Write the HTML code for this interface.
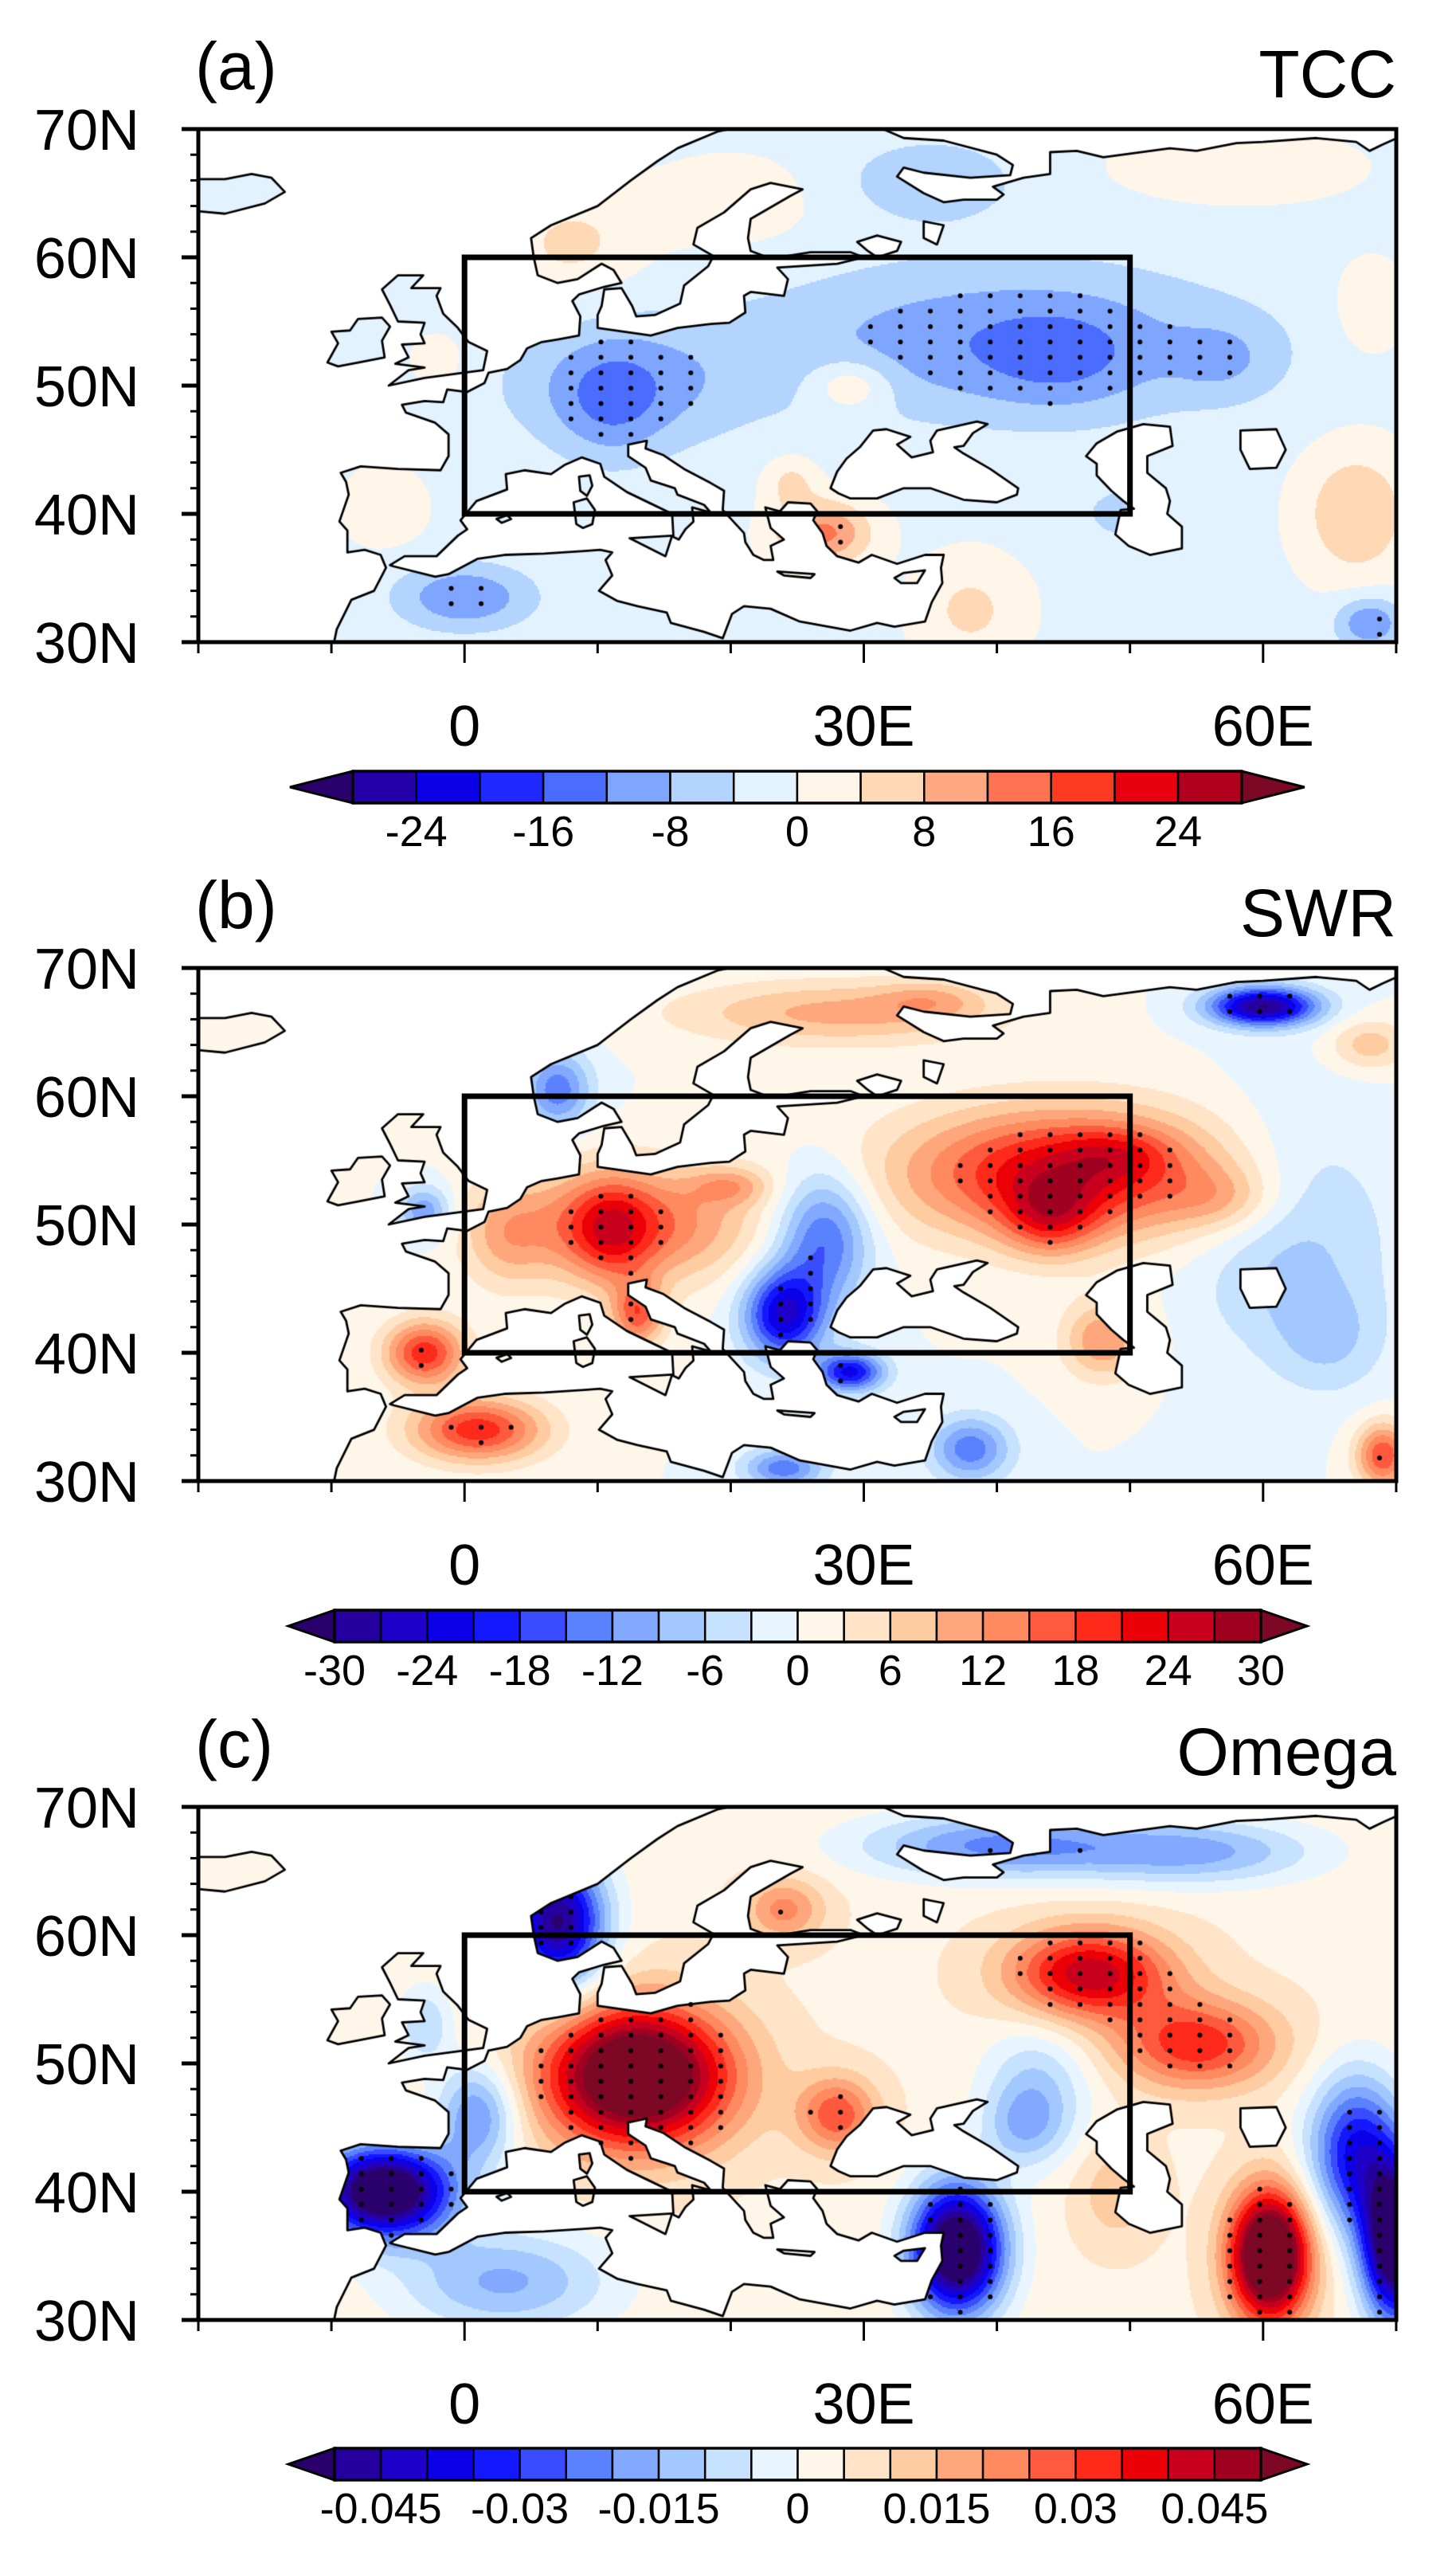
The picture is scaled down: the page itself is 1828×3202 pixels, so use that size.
<!DOCTYPE html>
<html><head><meta charset="utf-8">
<style>
html,body{margin:0;padding:0;background:#fff;}
#page{position:relative;width:1828px;height:3202px;overflow:hidden;background:#fff;}
canvas{position:absolute;}
svg{position:absolute;left:0;top:0;}
</style></head>
<body>
<div id="page">
<canvas id="map-a" width="1504" height="644" style="left:249px;top:162px"></canvas>
<canvas id="map-b" width="1504" height="644" style="left:249px;top:1215px"></canvas>
<canvas id="map-c" width="1504" height="644" style="left:249px;top:2268px"></canvas>
<svg id="ov" width="1828" height="3202"></svg>
</div>
<script>
// ---------- Panel (a) TCC anomaly field, built from blobs ----------
const tccLon = [40, 45, 57, 12, 11, 35, 8, 20, 58, 27, 24.5, 67, 38, 0, 68, -6, 29, 50, 68, -2];
const tccLat = [53.5, 52, 52, 50, 48.5, 66, 61, 64, 67, 38.5, 42.5, 40, 32.5, 33.5, 31.5, 40.5, 50, 40, 56, 52];
const tccRx  = [18, 6, 4, 9, 4, 6, 5, 7, 8, 3.5, 2, 4, 4, 5, 2.5, 3, 3, 5, 3, 2];
const tccRy  = [6, 4, 3, 5, 4.5, 3, 4, 4, 2.5, 2.5, 2, 5, 4, 2.5, 2, 3, 2, 3, 4, 2];
const tccAmp = [-10, -5, -5, -8, -6, -7, 6, 3, 5, 14, 6, 9, 6, -11, -11, 4, 8, -4, 4, 4];
const tccBase = -1;
const tccTicks = ["-24","-16","-8","0","8","16","24"];
const tccTickIdx = [1,3,5,7,9,11,13];

// ---------- Panel (b) SWR ----------
const swrLon = [44, 45, 49, 57, 11, 12, 13, 20, 3, 24, 27, 29, -3, 1, 60, 28, 35, 7, -3, 38, 24, 63, 65, 60, 69, 48, 68];
const swrLat = [50.5, 54, 55.5, 52, 49.5, 50, 43, 53, 49, 43, 49, 38.5, 40, 34, 67, 66.5, 67.5, 60.5, 51, 32.5, 31, 50, 41, 45, 32, 41, 64];
const swrRx  = [3.5, 12, 4, 4, 3, 9, 2, 3, 3, 3, 3.5, 2.5, 3, 5, 4, 12, 4, 2.5, 2, 3, 3, 7, 4, 6, 2, 3, 3];
const swrRy  = [3, 5, 2, 2.5, 4, 4.5, 2.5, 1.5, 4, 3.5, 5, 1.5, 2.5, 2.5, 1.5, 2.5, 1.5, 3, 2, 2.5, 1.5, 10, 4, 5, 2.5, 3, 2];
const swrAmp = [12, 24, 6, 6, 10, 17, 16, 8, 6, -24, -16, -22, 20, 20, -30, 10, 6, -14, -12, -14, -14, -6, -5, -2, 18, 12, 8];
const swrBase = 0;
const swrTicks = ["-30","-24","-18","-12","-6","0","6","12","18","24","30"];
const swrTickIdx = [0,2,4,6,8,10,12,14,16,18,20];

// ---------- Panel (c) Omega ----------
const omgLon = [13, 28, 47, 55, 24, 7, 40, 55, 67, 70, 60.5, 37, -6, 1, 3, 42, 43, 49, -3];
const omgLat = [49, 46, 57, 51.5, 62, 61, 67, 66.5, 43, 36, 35, 35.5, 40, 46, 33, 45, 48, 40, 53];
const omgRx  = [7, 3, 6, 6, 3, 3.5, 10, 9, 3.5, 2.5, 3, 3.5, 5, 3, 8, 3, 4, 3, 2];
const omgRy  = [5.5, 3, 3.5, 3.5, 2.5, 5, 2.5, 2.5, 6, 6, 5, 5, 3.5, 4, 4, 3, 5, 4, 3];
const omgAmp = [0.065, 0.025, 0.04, 0.03, 0.018, -0.055, -0.025, -0.02, -0.04, -0.07, 0.07, -0.07, -0.07, -0.025, -0.02, -0.012, -0.015, 0.01, -0.014];
const omgBase = 0.004;
const omgTicks = ["-0.045","-0.03","-0.015","0","0.015","0.03","0.045"];
const omgTickIdx = [1,4,7,10,13,16,19];

// colour tables
const colA = ['#2400a8','#0c00e6','#1e28ff','#4a6cff','#7ea6ff','#b2d4ff','#e2f2ff','#fff5e8','#ffd8b6','#ffa984','#ff7352','#ff3a22','#e8000e','#b0001e'];
const colB = ['#26009e','#1e00c8','#0c00e8','#1418ff','#3a4cff','#5a82ff','#82a9ff','#a2c8ff','#c6e2ff','#e8f5ff','#fff6ea','#ffe4c8','#ffcba0','#ffa77c','#ff8a60','#ff5a3e','#ff2a1a','#ec0008','#c8001e','#a00020'];
const tipL = '#2a006c', tipR = '#7c0826';

// coast/water polygons (lon,lat)
const WATER = [
[[-25,29],[-9.8,29],[-9.8,30],[-9.6,31],[-8.5,33.3],[-6.8,34],[-5.9,35.8],[-6.3,36.8],[-7.5,37.2],[-8.8,37],[-8.8,38.7],[-9.4,39.4],[-8.7,41.5],[-8.9,42.5],[-9.3,43.2],[-7.8,43.7],[-5,43.5],[-1.8,43.4],[-1.2,44.5],[-1.2,46.2],[-2.2,47.1],[-4.4,47.9],[-4.7,48.5],[-3,48.8],[-1.6,48.7],[-1.3,49.7],[0.2,49.5],[1.5,50.2],[1.8,51],[3.2,51.3],[4.2,52],[4.7,52.9],[5.8,53.4],[7,53.6],[8.6,53.9],[8.7,55.4],[8.1,56.6],[8.6,57.1],[10.5,57.7],[11.8,58.0],[11.2,59.0],[10.3,59.5],[8.5,58.3],[7,58],[5.5,58.6],[5.2,60],[5,61.5],[6.5,62.5],[10,64],[12.5,66],[14.5,67.5],[16,68.5],[19,69.8],[24,70.9],[28,71],[31,70.2],[33,69.3],[36,69.1],[40,68],[41.2,67.2],[41,66.4],[38,66.2],[34.5,66.6],[33,67],[32.5,66.3],[34.5,65],[36,64.3],[37.5,64.5],[40,64.5],[40.5,64.9],[39.7,65.5],[42,66.2],[44,66.5],[44,68.2],[46,68.3],[48,67.8],[53,68.5],[55,68.3],[58,68.9],[60,69],[64,69.3],[67,69],[68,68.3],[69,68.8],[70.5,69.5],[72,72],[-25,72]],
[[10,54.5],[12,54.2],[14,53.9],[16,54.5],[18.5,54.8],[19.9,54.9],[21.1,55.7],[21,57],[21.5,57.3],[24,57.0],[24.3,58.3],[23.5,59.2],[28,59.5],[30,60],[29,60.4],[26,60.4],[23,59.9],[21.5,60.5],[21.3,61.5],[21.5,63],[24.5,64.8],[25.4,65.3],[23,65.8],[21.5,65.3],[19.5,63.5],[17.5,62.3],[17.2,61],[18.7,60.1],[18.3,59.3],[16.5,57.8],[16.2,56.4],[14.3,55.5],[12.9,55.4],[12.6,56.2],[11.8,57.6],[10.5,57.5],[10.3,56.2],[10,55.5]],
[[-5.6,36],[-4.5,36.7],[-2.1,36.7],[-0.5,38.3],[0.2,38.8],[-0.3,39.5],[0.9,41],[3.2,41.9],[3.1,43.1],[4.5,43.4],[6.5,43.1],[7.5,43.8],[8.8,44.4],[10.2,43.9],[10.5,42.9],[12.2,41.7],[14,40.8],[15.6,40],[15.7,38.2],[16.1,38],[16.6,38.8],[17.2,39.4],[17.1,40.5],[18.5,40.1],[18,40.7],[16,41.5],[15.8,42],[14,42.6],[13.6,43.6],[12.3,44.5],[12.3,45.4],[13.7,45.7],[13.6,45.1],[14.9,44.6],[16.5,43.5],[18.5,42.4],[19.5,41.8],[19.4,40.3],[21,38.5],[21.1,37.8],[21.7,36.8],[22.5,36.4],[23.2,36.4],[23,37.5],[24,38],[23,38.9],[22.6,40.5],[23.7,40.2],[24.3,40.9],[26,40.8],[26.5,40.2],[26.2,39.5],[26.9,38.5],[27.2,37.5],[28,36.7],[29.6,36.2],[30.6,36.8],[32.5,36.1],[34.6,36.8],[36,36.8],[35.8,35.8],[35.9,34.6],[35.1,33.1],[34.6,31.6],[32.3,31.2],[31,31.5],[29,30.9],[25.2,31.6],[23,32.6],[21,32.8],[20.1,32.2],[19.4,30.3],[18,30.8],[15.5,31.5],[15.2,32.3],[13,32.8],[11.5,33.2],[10.1,34],[11.1,35.2],[10.6,36.4],[11.1,37],[10.2,37.2],[9,37.1],[6,36.9],[3,36.8],[1,36.5],[-1.2,35.3],[-2.2,35.1],[-5.3,35.9]],
[[27.5,42],[28,43.3],[28.7,44.3],[29.7,45.2],[30.7,46.5],[31.7,46.6],[33.5,46],[32.5,45.4],[33.6,44.4],[35.2,44.8],[35,45.7],[35.5,46.5],[38.5,47.2],[39.3,47],[38.2,46.3],[37.5,45.3],[36.8,45.2],[37.5,44.7],[39.5,43.5],[41.6,42],[41.5,41.5],[40,40.9],[37.5,41.1],[35,42],[33,42],[31,41.2],[29,41.2],[28.1,41.6]],
[[46.7,44.5],[47.5,45.5],[49,46.4],[51,47],[53,46.8],[53.2,45.3],[51.3,44.5],[51.3,43.2],[52.7,42],[53,41],[52.8,40],[53.9,39],[53.9,37.3],[51.5,36.8],[49.9,37.5],[48.9,38.4],[49.3,40.3],[50.3,40.4],[49.5,41],[48.6,41.8],[47.5,43],[47.5,43.9]],
[[58.3,46.5],[61,46.6],[61.7,45],[61,43.6],[59,43.5],[58.3,45]],
[[29.5,61.2],[31,61.7],[32.8,61.2],[32.5,60.5],[31,60],[30.3,60.5]],
[[34.5,62.8],[36,62.5],[35.5,61],[34.5,61.5]]
];
const ISLANDS = [
[[-5.7,50],[-3,50.6],[1.4,51.2],[1.7,52.7],[0.3,53.4],[-0.5,54.5],[-1.6,55.6],[-2.1,57],[-1.8,57.6],[-4,57.6],[-3.1,58.6],[-5,58.6],[-6.2,57.5],[-5.6,56.3],[-5,55],[-3,54.9],[-3.3,54],[-3,53.3],[-4.7,53.2],[-4.2,52.2],[-5.2,51.7],[-3,51.4],[-4.2,51.2]],
[[-6,52.2],[-6.2,53.5],[-5.6,54.6],[-6.2,55.3],[-8,55.2],[-8.6,54.3],[-10,54.2],[-9.5,53.3],[-10.3,51.8],[-9.5,51.5],[-8,51.8]],
[[-24,64],[-22,63.8],[-18,63.4],[-15,64.2],[-13.5,65.1],[-14.5,66.2],[-16,66.5],[-18,66.1],[-20,66.1],[-22.5,66.4],[-24,65.5]],
[[8.6,42.9],[9.4,43],[9.6,42.2],[9.2,41.4],[8.7,41.8]],
[[8.2,40.9],[9.2,41.2],[9.8,40.3],[9.6,39.2],[8.9,38.9],[8.4,39.2]],
[[12.4,38.1],[15.6,38.3],[15.1,36.7]],
[[23.5,35.5],[26.3,35.3],[26,35],[24,35.2]],
[[32.3,35],[33,35.4],[34.6,35.6],[34,34.6],[32.8,34.6]],
[[2.4,39.6],[3.2,39.9],[3.5,39.6],[2.8,39.3]]
];

const W = 1504, H = 644;
function X(lon){ return (lon + 20) * 16.71; }
function Y(lat){ return (70 - lat) * 16.1; }
function hex(c){ return [parseInt(c.substr(1,2),16),parseInt(c.substr(3,2),16),parseInt(c.substr(5,2),16)]; }

function field(lon, lat, L, A, RX, RY, AMP, base){
  let v = base;
  for (let i=0;i<L.length;i++){
    const dx=(lon-L[i])/RX[i], dy=(lat-A[i])/RY[i];
    v += AMP[i]*Math.exp(-dx*dx-dy*dy);
  }
  return v;
}
function colorOf(v, lo, step, cols){
  const k = Math.floor((v - lo)/step);
  if (k < 0) return tipL;
  if (k >= cols.length) return tipR;
  return cols[k];
}
function polyPath(p){
  const path = new Path2D();
  p.forEach((q,i)=>{ i? path.lineTo(X(q[0]),Y(q[1])) : path.moveTo(X(q[0]),Y(q[1])); });
  path.closePath();
  return path;
}

function drawMap(id, L, A, RX, RY, AMP, base, lo, step, cols, sig){
  const cv = document.getElementById(id), ctx = cv.getContext('2d');
  const off = document.createElement('canvas'); off.width = W/2; off.height = H/2;
  const octx = off.getContext('2d'), img = octx.createImageData(W/2, H/2);
  const rgb = {};
  for (let py=0; py<H/2; py++){
    for (let px=0; px<W/2; px++){
      const lon = -20 + (px*2+1)/16.71, lat = 70 - (py*2+1)/16.1;
      const c = colorOf(field(lon,lat,L,A,RX,RY,AMP,base), lo, step, cols);
      const r = rgb[c] || (rgb[c]=hex(c));
      const o = (py*(W/2)+px)*4;
      img.data[o]=r[0]; img.data[o+1]=r[1]; img.data[o+2]=r[2]; img.data[o+3]=255;
    }
  }
  octx.putImageData(img,0,0);
  ctx.imageSmoothingEnabled = false;
  ctx.drawImage(off,0,0,W,H);
  const wp = WATER.map(polyPath), ip = ISLANDS.map(polyPath);
  ctx.fillStyle = '#fff';
  wp.forEach(p=>ctx.fill(p));
  ip.forEach(p=>{ ctx.save(); ctx.clip(p); ctx.drawImage(off,0,0,W,H); ctx.restore(); });
  // significance stippling
  ctx.fillStyle = '#000';
  for (let lon=-19; lon<70; lon+=2.25){
    for (let lat=30.6; lat<70; lat+=1.2){
      const v = field(lon,lat,L,A,RX,RY,AMP,base);
      if (Math.abs(v) < sig) continue;
      const x = X(lon), y = Y(lat);
      const inWater = wp.some(p=>ctx.isPointInPath(p,x,y)) && !ip.some(p=>ctx.isPointInPath(p,x,y));
      if (inWater) continue;
      ctx.beginPath(); ctx.arc(x,y,3,0,Math.PI*2); ctx.fill();
    }
  }
  ctx.strokeStyle = '#000'; ctx.lineWidth = 2.8; ctx.lineJoin = 'round';
  wp.forEach(p=>ctx.stroke(p)); ip.forEach(p=>ctx.stroke(p));
}

drawMap('map-a', tccLon, tccLat, tccRx, tccRy, tccAmp, tccBase, -28, 4, colA, 8);
drawMap('map-b', swrLon, swrLat, swrRx, swrRy, swrAmp, swrBase, -30, 3, colB, 15);
drawMap('map-c', omgLon, omgLat, omgRx, omgRy, omgAmp, omgBase, -0.05, 0.005, colB, 0.02);

// ---------- overlay: frames, ticks, labels, colour bars ----------
const NS = 'http://www.w3.org/2000/svg';
const ov = document.getElementById('ov');
function mk(tag, attrs, parent){
  const e = document.createElementNS(NS, tag);
  for (const k in attrs) e.setAttribute(k, attrs[k]);
  (parent||ov).appendChild(e);
  return e;
}
const FONT = '"Liberation Sans", Arial, sans-serif';
const panelTops = [162, 1215, 2268];
const panelTags = ['(a)','(b)','(c)'];
const panelTitles = ['TCC','SWR','Omega'];
const latLabels = ['70N','60N','50N','40N','30N'];
const lonLabels = ['0','30E','60E'];
const lonLabelVals = [0,30,60];

panelTops.forEach((top, pi)=>{
  const g = mk('g', {});
  
  
  const gx = v => 249 + X(v), gy = v => top + Y(v);
  const box = mk('rect', {x:gx(0), y:gy(60), width:gx(50)-gx(0), height:gy(40)-gy(60), fill:'none', stroke:'#000', 'stroke-width':7}, g);
  
  
  const fr = mk('rect', {x:249, y:top, width:W, height:H, fill:'none', stroke:'#000', 'stroke-width':5}, g);
  
  
  for (let lat=30; lat<=70; lat+=2){
    const major = lat % 10 === 0;
    mk('line', {x1:249-(major?21:10), x2:249, y1:gy(lat), y2:gy(lat), stroke:'#000', 'stroke-width':major?5:3}, g);
  }
  for (let lon=-20; lon<=70; lon+=10){
    const major = lon % 30 === 0;
    mk('line', {x1:gx(lon), x2:gx(lon), y1:top+H, y2:top+H+(major?26:14), stroke:'#000', 'stroke-width':3}, g);
  }
  latLabels.forEach((t,i)=>{
    const tx = mk('text', {x:175, y:gy(70-i*10)+26, 'text-anchor':'end', 'font-size':72, 'font-family':FONT}, g);
    tx.textContent = t;
    
    
  });
  lonLabels.forEach((t,i)=>{
    const tx = mk('text', {x:gx(lonLabelVals[i]), y:top+H+104+26, 'text-anchor':'middle', 'font-size':72, 'font-family':FONT}, g);
    tx.textContent = t;
    
    
  });
  const tag = mk('text', {x:245, y:top-50, 'font-size':84, 'font-family':FONT}, g);
  tag.textContent = panelTags[pi];
  
  
  const ti = mk('text', {x:1753, y:top-40, 'text-anchor':'end', 'font-size':84, 'font-family':FONT}, g);
  ti.textContent = panelTitles[pi];
  
  
});

function colorbar(top, x0, segW, cols, ticks, tickIdx, name){
  const g = mk('g', {});
  
  
  const h = 40, n = cols.length, x1 = x0 + n*segW, tw = segW > 70 ? 79 : 58;
  mk('polygon', {points:`${x0},${top} ${x0-tw},${top+h/2} ${x0},${top+h}`, fill:tipL, stroke:'#000','stroke-width':3}, g);
  mk('polygon', {points:`${x1},${top} ${x1+tw},${top+h/2} ${x1},${top+h}`, fill:tipR, stroke:'#000','stroke-width':3}, g);
  cols.forEach((c,i)=>{
    mk('rect', {x:x0+i*segW, y:top, width:segW, height:h, fill:c, stroke:'#000', 'stroke-width':2.5}, g);
  });
  mk('rect', {x:x0, y:top, width:n*segW, height:h, fill:'none', stroke:'#000', 'stroke-width':3.5}, g);
  ticks.forEach((t,i)=>{
    const tx = mk('text', {x:x0+tickIdx[i]*segW, y:top+h+54, 'text-anchor':'middle', 'font-size':54, 'font-family':FONT}, g);
    tx.textContent = t;
    
    
  });
}
colorbar(968, 443, 79.7, colA, tccTicks, tccTickIdx, 'tcc-colorbar');
colorbar(2021, 420, 58.15, colB, swrTicks, swrTickIdx, 'swr-colorbar');
colorbar(3073, 420, 58.15, colB, omgTicks, omgTickIdx, 'omega-colorbar');
</script>
</body></html>
